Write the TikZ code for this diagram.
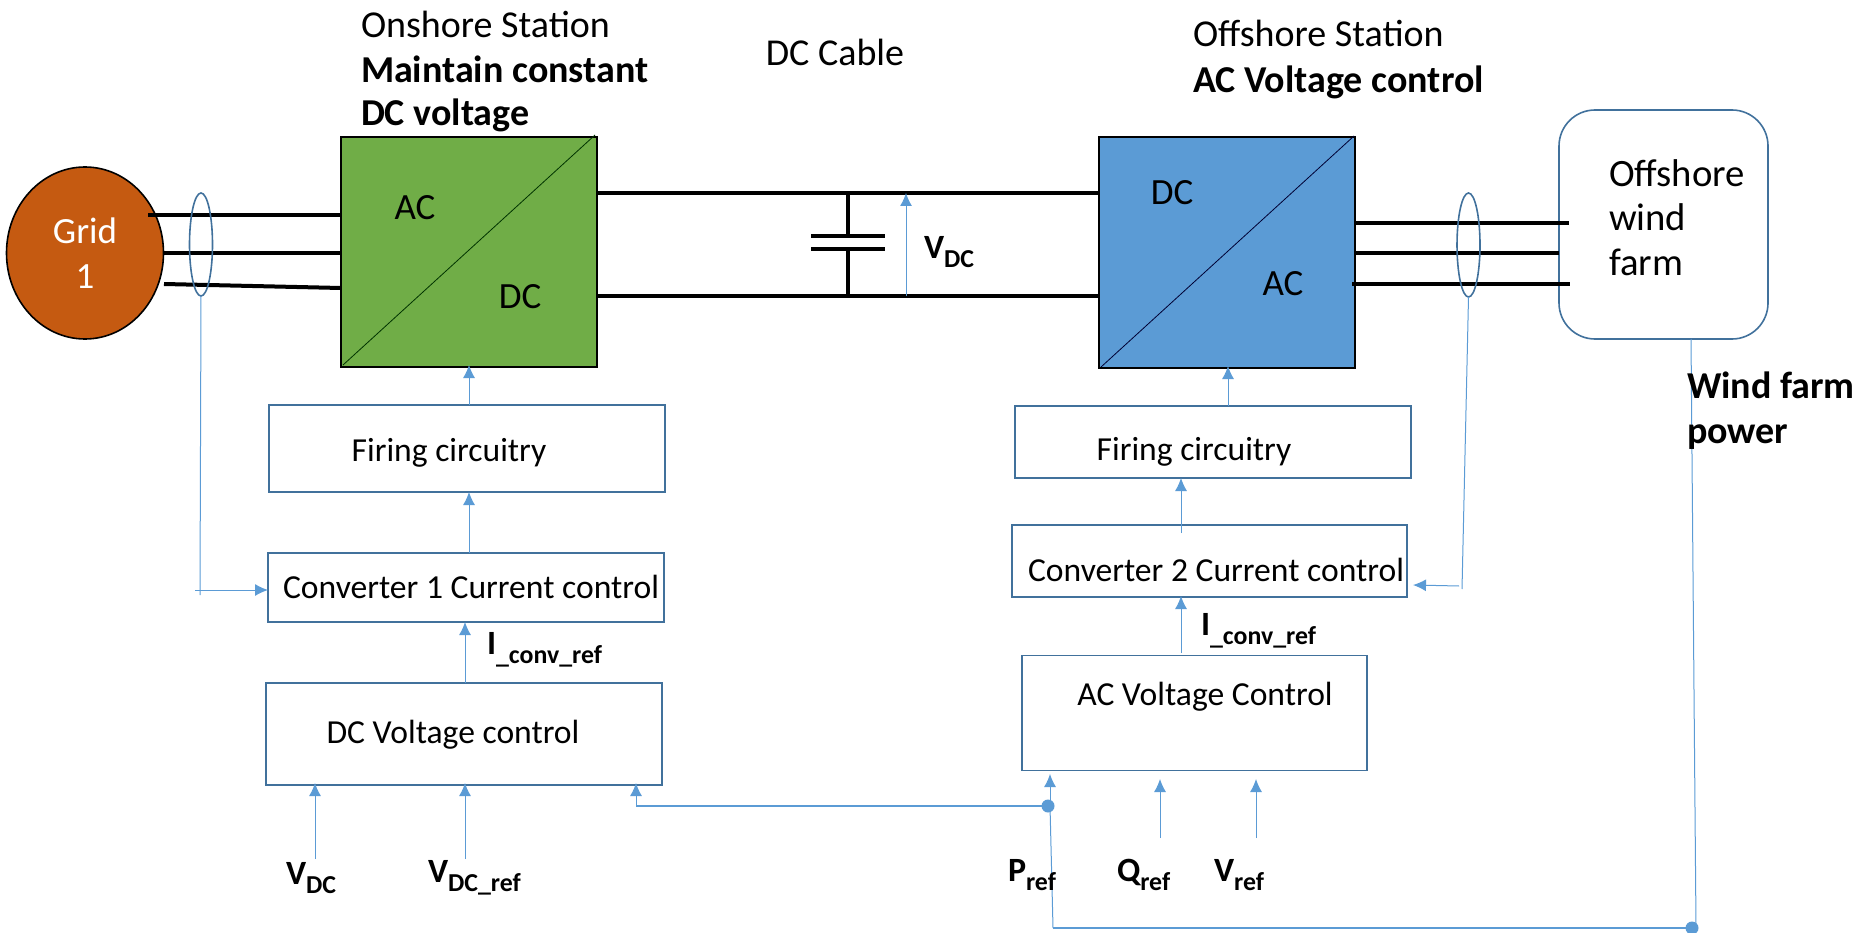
\documentclass[tikz,border=0pt]{standalone}
\usepackage{fontspec}
\setmainfont{Carlito}
\usetikzlibrary{arrows.meta,shapes.geometric}
\newcommand{\sbs}[1]{\raisebox{-0.28em}{\scalebox{0.76}{#1}}}
\tikzset{
  txt/.style={inner sep=0,outer sep=0,font=\fontsize{38}{42}\selectfont,text=black},
  btxt/.style={txt,font=\fontsize{38}{42}\selectfont\bfseries},
  ctl/.style={txt,font=\fontsize{33.6}{38}\selectfont},
  sym/.style={txt,font=\fontsize{37}{40}\selectfont},
  farmtxt/.style={txt,font=\fontsize{38.7}{44}\selectfont,anchor=west},
  lab/.style={txt,font=\fontsize{34}{38}\selectfont\bfseries,anchor=west},
  ctrl/.style={draw=ctrlblue,line width=1.8pt,fill=white,inner sep=0,outer sep=0},
  conv/.style={draw=black,line width=2.6pt,inner sep=0,outer sep=0},
  power/.style={draw=black,line width=4pt},
  sig/.style={draw=sigblue,line width=1pt},
  sigarrow/.style={sig,-{Latex[length=13pt,width=12pt]}},
  clamp/.style={draw=ctrlblue,line width=1.6pt,ellipse,inner sep=0,outer sep=0},
  junction/.style={circle,fill=sigblue,inner sep=0,outer sep=0,minimum size=13pt},
}
\definecolor{ctrlblue}{HTML}{41719C}
\definecolor{sigblue}{HTML}{5B9BD5}
\definecolor{gridfill}{HTML}{C55A11}
\definecolor{greenfill}{HTML}{70AD47}
\definecolor{bluefill}{HTML}{5B9BD5}
\begin{document}
\begin{tikzpicture}[x=1pt,y=-1pt]
\useasboundingbox (0,0) rectangle (1870,933);
% main equipment
\node[ellipse,draw=black,line width=1.6pt,fill=gridfill,minimum width=157pt,minimum height=172pt,inner sep=0,outer sep=0] (grid) at (85,253) {};
\node[conv,fill=greenfill,minimum width=256pt,minimum height=230pt] (onshore) at (469,252) {};
\node[conv,fill=bluefill,minimum width=256pt,minimum height=231pt] (offshore) at (1227,252.5) {};
\node[draw=ctrlblue,line width=1.6pt,rounded corners=36pt,fill=white,minimum width=209pt,minimum height=229pt,inner sep=0,outer sep=0] (farm) at (1663.5,224.5) {};
\draw[black!80!green,line width=0.8pt] (onshore.south west) ++(2,-2) -- ([xshift=-2pt,yshift=2pt]onshore.north east);
\draw[black!80!blue,line width=0.8pt] (offshore.south west) ++(2,-1) -- ([xshift=-1pt,yshift=1pt]offshore.north east);
% control boxes
\node[ctrl,minimum width=396pt,minimum height=87pt] (fire1) at (467,448.5) {};
\node[ctrl,minimum width=396pt,minimum height=69pt] (cc1) at (466,587.5) {};
\node[ctrl,minimum width=396pt,minimum height=102pt] (dcv) at (464,734) {};
\node[ctrl,minimum width=396pt,minimum height=72pt] (fire2) at (1213,442) {};
\node[ctrl,minimum width=395pt,minimum height=72pt] (cc2) at (1209.5,561) {};
\node[ctrl,minimum width=345pt,minimum height=115pt] (acv) at (1194.5,713) {};
% free ends
\coordinate (g1) at (148,215); \coordinate (g2) at (164,253); \coordinate (g3) at (164,284);
\coordinate (o1) at (341,215); \coordinate (o2) at (341,253); \coordinate (o3) at (341,288);
\coordinate (f1) at (1569,223); \coordinate (f2) at (1559,253); \coordinate (f3) at (1570,284);
\coordinate (b1) at (1355,223); \coordinate (b2) at (1355,253); \coordinate (b3) at (1352,284);
\coordinate (dcUL) at (597,193); \coordinate (dcUR) at (1099,193);
\coordinate (dcLL) at (597,296); \coordinate (dcLR) at (1099,296);
% power lines
\draw[power] (g1) -- (o1);
\draw[power] (g2) -- (o2);
\draw[power] (g3) -- (o3);
\draw[power] (b1) -- (f1);
\draw[power] (b2) -- (f2);
\draw[power] (b3) -- (f3);
\draw[power] (dcUL) -- (dcUR);
\draw[power] (dcLL) -- (dcLR);
% capacitor
\coordinate (capT) at (848,193); \coordinate (capTp) at (848,236);
\coordinate (capBp) at (848,249); \coordinate (capB) at (848,296);
\coordinate (p1l) at (811,236); \coordinate (p1r) at (885,236);
\coordinate (p2l) at (811,249); \coordinate (p2r) at (885,249);
\draw[power] (capT) -- (capTp);
\draw[power] (capBp) -- (capB);
\draw[power] (p1l) -- (p1r);
\draw[power] (p2l) -- (p2r);
% clamps
\node[clamp,minimum width=23pt,minimum height=103pt] (cl1) at (201,244.5) {};
\node[clamp,minimum width=23pt,minimum height=104pt] (cl2) at (1468.5,245) {};
% V_DC arrow
\coordinate (vdcB) at (906,296); \coordinate (vdcT) at (906,193);
\draw[sigarrow] (vdcB) -- (vdcT);
% onshore chain
\coordinate (a1) at (469,0); \coordinate (a2) at (465,0);
\draw[sigarrow] (fire1.north -| a1) -- ([yshift=2pt]onshore.south -| a1);
\draw[sigarrow] (cc1.north -| a1) -- (fire1.south -| a1);
\draw[sigarrow] (dcv.north -| a2) -- (cc1.south -| a2);
% clamp 1 feedback
\coordinate (c1a) at (200,595); \coordinate (c1b) at (195,590);
\draw[sig] (cl1.south) -- (c1a);
\draw[sigarrow] (c1b) -- (cc1.west |- c1b);
% offshore chain
\coordinate (a3) at (1228,0); \coordinate (a4) at (1181,0);
\draw[sigarrow] (fire2.north -| a3) -- ([yshift=2pt]offshore.south -| a3);
\coordinate (c2s) at (1181,533);
\draw[sigarrow] (c2s) -- (fire2.south -| a4);
\coordinate (acT) at (1181,653);
\draw[sigarrow] (acT) -- ([yshift=1pt]cc2.south -| a4);
% clamp 2 feedback
\coordinate (c2a) at (1462,589); \coordinate (c2b) at (1459,586); \coordinate (c2t) at (1413,585);
\draw[sig] (cl2.south) -- (c2a);
\draw[sigarrow] (c2b) -- (c2t);
% DC voltage control inputs
\coordinate (i1) at (315,859); \coordinate (i2) at (465,859); \coordinate (i3) at (636,806);
\draw[sigarrow] (i1) -- ([yshift=2pt]dcv.south -| i1);
\draw[sigarrow] (i2) -- ([yshift=2pt]dcv.south -| i2);
\draw[sigarrow] (i3) -- ([yshift=2pt]dcv.south -| i3);
% AC voltage control inputs
\node[junction] (jp) at (1048,806) {};
\node[junction] (jw) at (1692,928) {};
\coordinate (q1) at (1160,838); \coordinate (q1t) at (1160,779);
\coordinate (v1) at (1256,838); \coordinate (v1t) at (1256,779);
\coordinate (p1) at (1050,806); \coordinate (p1t) at (1050,774);
\coordinate (p2) at (1053,928);
\coordinate (w1) at (1691,339); \coordinate (w2) at (1696,928);
\draw[sigarrow] (p1) -- (p1t);
\draw[sigarrow] (q1) -- (q1t);
\draw[sigarrow] (v1) -- (v1t);
\draw[sig,line width=1.5pt] (i3) -- (jp);
\draw[sig] (p1) -- (p2);
\draw[sig,line width=1.5pt] (p2) -- (jw);
\draw[sig] (w1) -- (w2);
% labels
\node[sym,text=white] (tg1) at (85,231) {Grid};
\node[sym,text=white] (tg2) at (85,277) {1};
\node[sym] (t1) at (415,208) {AC};
\node[sym] (t2) at (520,297) {DC};
\node[sym] (t3) at (1172,193) {DC};
\node[sym] (t4) at (1283,284) {AC};
\node[txt,anchor=west] (t5) at (361,24) {Onshore Station};
\node[btxt,anchor=west] (t6) at (361,69) {Maintain constant};
\node[btxt,anchor=west] (t7) at (361,115) {DC voltage};
\node[txt] (t8) at (835,52) {DC Cable};
\node[txt,anchor=west] (t9) at (1193,33) {Offshore Station};
\node[btxt,anchor=west] (t10) at (1193,82) {AC Voltage control};
\node[farmtxt] (t11) at (1609,173) {Offshore};
\node[farmtxt] (t12) at (1609,217) {wind};
\node[farmtxt] (t13) at (1609,262) {farm};
\node[btxt,anchor=west] (t14) at (1687,385) {Wind farm};
\node[btxt,anchor=west] (t15) at (1687,437) {power};
\node[ctl] (t16) at (449,453) {Firing circuitry};
\node[ctl] (t17) at (471,587) {Converter 1 Current control};
\node[ctl] (t18) at (453,735) {DC Voltage control};
\node[ctl] (t19) at (1194,452) {Firing circuitry};
\node[ctl] (t20) at (1216,570) {Converter 2 Current control};
\node[ctl] (t21) at (1205,697) {AC Voltage Control};
\node[lab] (t22) at (487,650) {I\sbs{\_conv\_ref}};
\node[lab] (t23) at (1201,631) {I\sbs{\_conv\_ref}};
\node[lab] (t24) at (924,252) {V\sbs{DC}};
\node[lab] (t25) at (286,878) {V\sbs{DC}};
\node[lab] (t26) at (428,878) {V\sbs{DC\_ref}};
\node[lab] (t27) at (1008,875) {P\sbs{ref}};
\node[lab] (t28) at (1117,875) {Q\sbs{ref}};
\node[lab] (t29) at (1214,875) {V\sbs{ref}};
\end{tikzpicture}
\end{document}
